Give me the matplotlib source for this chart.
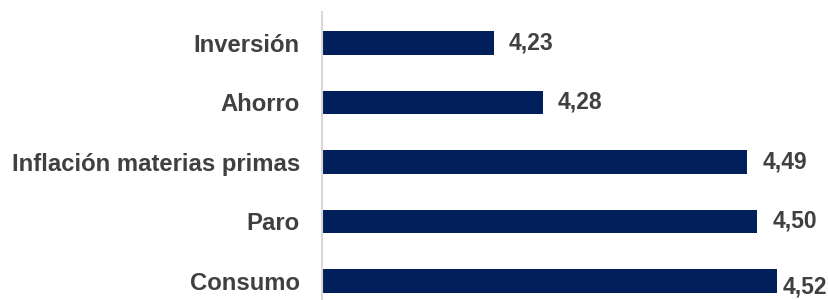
import matplotlib
matplotlib.use("Agg")
import matplotlib.pyplot as plt

categories = ["Consumo", "Paro", "Inflación materias primas", "Ahorro", "Inversión"]
values = [4.52, 4.50, 4.49, 4.28, 4.23]
value_labels = ["4,52", "4,50", "4,49", "4,28", "4,23"]

plt.rcParams['font.family'] = ['Liberation Sans', 'DejaVu Sans']

W, H, DPI = 829, 300, 100
fig = plt.figure(figsize=(W / DPI, H / DPI), dpi=DPI)
left_px, top_px = 322, 12
ax = fig.add_axes([left_px / W, 0, 1 - left_px / W, 1 - top_px / H])

bar_color = "#001F5B"
text_color = "#404040"
ypos = list(range(len(categories)))
ax.barh(ypos, values, height=0.39, color=bar_color, left=0)

ax.set_xlim(4.054, 4.054 + (W - left_px) / 975.9)
ax.set_ylim(-0.32, -0.32 + (H - top_px) / 59.5)

ax.set_yticks(ypos)
ax.set_yticklabels(categories, fontsize=17.2, fontweight='bold', color=text_color)
ax.tick_params(axis='y', length=0, pad=16)
ax.set_xticks([])

for s in ["top", "right", "bottom"]:
    ax.spines[s].set_visible(False)
ax.spines["left"].set_color("#D9D9D9")
ax.spines["left"].set_linewidth(1.5)

fig.canvas.draw()
renderer = fig.canvas.get_renderer()
for y, v, lab in zip(ypos, values, value_labels):
    t = ax.annotate(lab, (v, y), xytext=(11, 0), textcoords="offset points",
                    ha="left", va="center", fontsize=16.5, fontweight="bold",
                    color=text_color, annotation_clip=False)
    bb = t.get_window_extent(renderer)
    if bb.x1 > W - 2:
        t.set_position((11 - (bb.x1 - (W - 2)) * 72 / DPI, -4))

fig.savefig("out.png", dpi=DPI)
